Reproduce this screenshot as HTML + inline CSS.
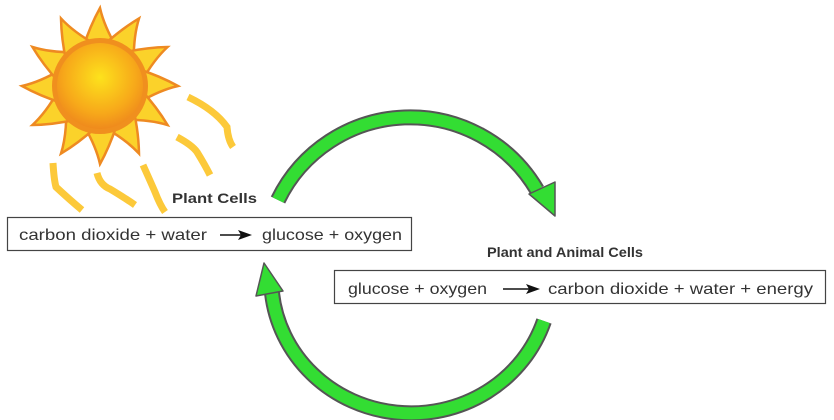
<!DOCTYPE html>
<html><head><meta charset="utf-8"><style>
html,body{margin:0;padding:0;background:#fff;width:834px;height:420px;overflow:hidden}
svg{display:block}
text{font-family:"Liberation Sans","DejaVu Sans",sans-serif;fill:#333}
</style></head><body>
<svg width="834" height="420" viewBox="0 0 834 420">
<defs>
<radialGradient id="core" cx="50%" cy="40%" r="60%">
<stop offset="0" stop-color="#fde21c"/><stop offset="0.7" stop-color="#f7a81a"/><stop offset="1" stop-color="#ef8a1c"/>
</radialGradient>
</defs>
<g fill="none" stroke="#fcc93a" stroke-width="7" stroke-linecap="butt">
<path d="M188,97 Q215,110 227,127 Q228,140 233,147"/>
<path d="M177,137 Q192,145 197,152 Q205,165 210,175"/>
<path d="M143,165 Q152,185 155,192 Q160,205 165,212"/>
<path d="M97,173 Q100,185 110,189 Q125,198 135,205"/>
<path d="M53,163 Q54,180 56,187 Q70,200 82,210"/>
</g>
<g transform="translate(100,86)">
<g id="rays">
<path d="M-17,-38 Q-10,-60 0,-78 Q4,-60 17,-38 Z" fill="#fbd22a" stroke="#ee8a22" stroke-width="2.5"/>
</g>
<use href="#rays" transform="rotate(30)"/><use href="#rays" transform="rotate(60)"/><use href="#rays" transform="rotate(90)"/>
<use href="#rays" transform="rotate(120)"/><use href="#rays" transform="rotate(150)"/><use href="#rays" transform="rotate(180)"/>
<use href="#rays" transform="rotate(210)"/><use href="#rays" transform="rotate(240)"/><use href="#rays" transform="rotate(270)"/>
<use href="#rays" transform="rotate(300)"/><use href="#rays" transform="rotate(330)"/>
<circle r="48" fill="#f08f1e"/>
<circle r="43" fill="url(#core)"/>
</g>
<path d="M278,200 A147 147 0 0 1 537,190" fill="none" stroke="#555" stroke-width="16"/>
<path d="M278,200 A147 147 0 0 1 537,190" fill="none" stroke="#33dd33" stroke-width="12"/>
<polygon points="529,194 555,182 555,216" fill="#33dd33" stroke="#555" stroke-width="1.5" stroke-linejoin="round"/>
<path d="M544,321 A140 135 0 0 1 272,293" fill="none" stroke="#555" stroke-width="16"/>
<path d="M544,321 A140 135 0 0 1 272,293" fill="none" stroke="#33dd33" stroke-width="12"/>
<polygon points="256,296 264,263 283,291" fill="#33dd33" stroke="#555" stroke-width="1.5" stroke-linejoin="round"/>
<text x="172" y="203" font-size="14" font-weight="bold" textLength="85" lengthAdjust="spacingAndGlyphs">Plant Cells</text>
<text x="487" y="257" font-size="14" font-weight="bold" textLength="156" lengthAdjust="spacingAndGlyphs">Plant and Animal Cells</text>
<rect x="7.5" y="217.5" width="404" height="33" fill="#fff" stroke="#444" stroke-width="1.2"/>
<text x="19" y="240" font-size="16" textLength="188" lengthAdjust="spacingAndGlyphs">carbon dioxide + water</text>
<line x1="220" y1="235" x2="242" y2="235" stroke="#111" stroke-width="1.5"/>
<polygon points="238,230 252,235 238,240 241,235" fill="#111"/>
<text x="262" y="240" font-size="16" textLength="140" lengthAdjust="spacingAndGlyphs">glucose + oxygen</text>
<rect x="334.5" y="270.5" width="491" height="33" fill="#fff" stroke="#444" stroke-width="1.2"/>
<text x="348" y="294" font-size="16" textLength="139" lengthAdjust="spacingAndGlyphs">glucose + oxygen</text>
<line x1="503" y1="289" x2="530" y2="289" stroke="#111" stroke-width="1.5"/>
<polygon points="526,284 540,289 526,294 529,289" fill="#111"/>
<text x="548" y="294" font-size="16" textLength="265" lengthAdjust="spacingAndGlyphs">carbon dioxide + water + energy</text>
</svg>
</body></html>
